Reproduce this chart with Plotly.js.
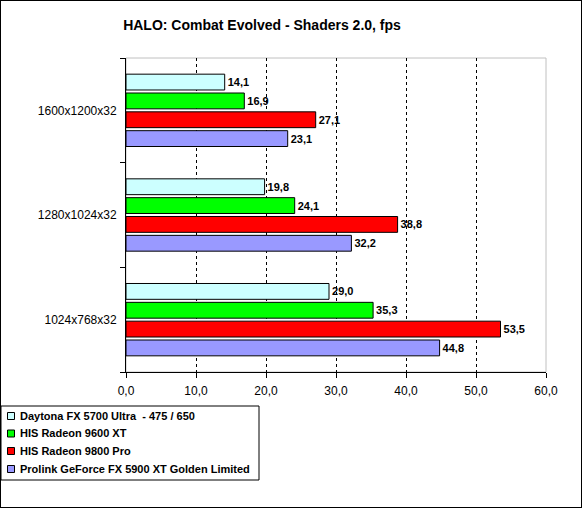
<!DOCTYPE html>
<html><head><meta charset="utf-8">
<script src="https://cdn.plot.ly/plotly-3.0.1.min.js"></script>
<style>html,body{margin:0;padding:0;background:#fff}#chart{width:580px;height:506px;border:1px solid #000}</style>
</head><body><div id="chart"></div>
<script>
const categories = ['1600x1200x32', '1280x1024x32', '1024x768x32'];
const seriesNames = ['Daytona FX 5700 Ultra  - 475 / 650', 'HIS Radeon 9600 XT', 'HIS Radeon 9800 Pro', 'Prolink GeForce FX 5900 XT Golden Limited'];
const daytona = [14.1, 19.8, 29.0];
const his9600 = [16.9, 24.1, 35.3];
const his9800 = [27.1, 38.8, 53.5];
const prolink = [23.1, 32.2, 44.8];
const colors = ['#CCFFFF', '#00FF00', '#FF0000', '#9999FF'];
const xTicks = [0, 10, 20, 30, 40, 50, 60];

const seriesVals = [daytona, his9600, his9800, prolink];
const fmt = v => v.toFixed(1).replace('.', ',');
const font = 'Arial, "Liberation Sans", sans-serif';

// plot area in image pixels: x 126..546, y 58..372
const PX = X => (X - 126) / 420;
const PY = Y => (372 - Y) / 314;

const traces = [];
for (let i = seriesVals.length - 1; i >= 0; i--) {
  traces.push({
    type: 'bar', orientation: 'h', name: seriesNames[i],
    y: categories, x: seriesVals[i],
    text: seriesVals[i].map(fmt), textposition: 'outside', cliponaxis: false,
    textfont: {family: font, size: 11, color: '#000', weight: 'bold'},
    marker: {color: colors[i], line: {color: '#000', width: 1}},
    hoverinfo: 'skip', showlegend: false
  });
}

const shapes = [
  {type: 'rect', xref: 'paper', yref: 'paper', x0: 0, x1: 1, y0: 0, y1: 1, line: {color: '#C0C0C0', width: 1}, layer: 'below'},
  {type: 'rect', xref: 'paper', yref: 'paper', x0: PX(1), x1: PX(259), y0: PY(406), y1: PY(480), line: {color: '#000', width: 1}, fillcolor: '#fff', layer: 'above'}
];
const annotations = [];
const rowY = [416, 433.5, 451, 469];
seriesNames.forEach((name, i) => {
  shapes.push({type: 'rect', xref: 'paper', yref: 'paper', x0: PX(7.5), x1: PX(14.5), y0: PY(rowY[i] - 3.5), y1: PY(rowY[i] + 3.5),
    line: {color: '#000', width: 1}, fillcolor: colors[i], layer: 'above'});
  annotations.push({xref: 'paper', yref: 'paper', x: PX(18), y: PY(rowY[i]), xanchor: 'left', yanchor: 'middle', showarrow: false,
    text: name.replace(/  /g, ' &nbsp;'), font: {family: font, size: 11, color: '#000', weight: 'bold'}});
});

const layout = {
  width: 580, height: 506,
  margin: {l: 125, r: 35, t: 57, b: 135, pad: 0},
  paper_bgcolor: '#fff', plot_bgcolor: '#fff',
  separators: ',.',
  barmode: 'group', bargap: 0.28, bargroupgap: 0.16,
  font: {family: font, size: 11, color: '#000'},
  title: {text: 'HALO: Combat Evolved - Shaders 2.0, fps', x: 261 / 580, xanchor: 'center', y: 1 - 24 / 506, yanchor: 'middle',
    font: {family: font, size: 14, color: '#000', weight: 'bold'}},
  xaxis: {range: [0, 60], tickvals: xTicks, tickformat: '.1f', showgrid: true, gridcolor: '#000', griddash: '3px,3px', gridwidth: 1,
    showline: true, linecolor: '#000', linewidth: 1, ticks: 'outside', ticklen: 5, tickcolor: '#000', zeroline: false,
    ticklabelstandoff: 3,
    automargin: false, tickfont: {family: font, size: 12, color: '#000'}, fixedrange: true},
  yaxis: {type: 'category', categoryorder: 'array', categoryarray: categories.slice().reverse(),
    showline: true, linecolor: '#000', linewidth: 1, ticks: 'outside', ticklen: 5, tickcolor: '#000', tickson: 'boundaries',
    ticklabelstandoff: 6,
    automargin: false, showgrid: false, tickfont: {family: font, size: 12, color: '#000'}, fixedrange: true},
  shapes: shapes,
  annotations: annotations,
  showlegend: false
};

Plotly.newPlot('chart', traces, layout, {displayModeBar: false, staticPlot: true});
</script></body></html>
